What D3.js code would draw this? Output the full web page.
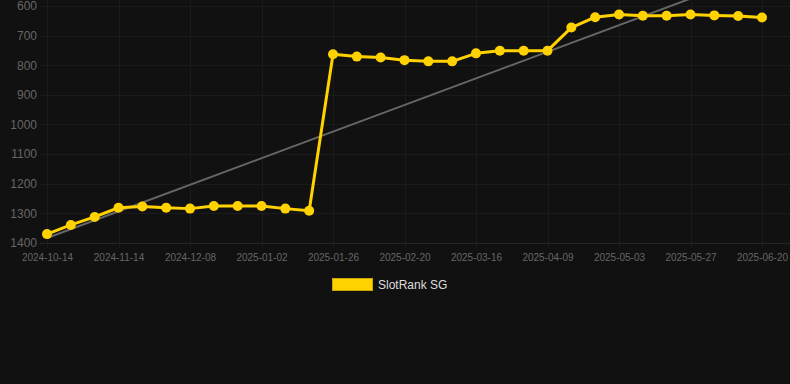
<!DOCTYPE html>
<html>
<head>
<meta charset="utf-8">
<script src="https://cdn.jsdelivr.net/npm/d3@7"></script>
<style>
  html, body { margin: 0; padding: 0; background: #111111; }
  svg { display: block; font-family: "Liberation Sans", Arial, sans-serif; }
</style>
</head>
<body>
<div id="chart"></div>
<script>
var dates = ['2024-10-14', '2024-10-24', '2024-11-04', '2024-11-14', '2024-11-22', '2024-11-30',
             '2024-12-08', '2024-12-16', '2024-12-24', '2025-01-02', '2025-01-10', '2025-01-18',
             '2025-01-26', '2025-02-03', '2025-02-11', '2025-02-20', '2025-02-28', '2025-03-08',
             '2025-03-16', '2025-03-24', '2025-04-01', '2025-04-09', '2025-04-17', '2025-04-25',
             '2025-05-03', '2025-05-11', '2025-05-19', '2025-05-27', '2025-06-04', '2025-06-12',
             '2025-06-20'];

var ranks = [1370, 1339, 1312, 1281, 1277, 1281, 1284, 1275, 1275, 1275, 1284, 1291,
             763, 771, 774, 783, 787, 787, 760, 751, 751, 751, 673, 638,
             629, 633, 633, 629, 632, 634, 639];

var yTicks = [600, 700, 800, 900, 1000, 1100, 1200, 1300, 1400];
var seriesName = 'SlotRank SG';

var W = 790, H = 384;
var plotTop = 0, plotBottom = 243, plotLeft = 40, plotRight = 790;

var svg = d3.select('#chart')
    .append('svg')
    .attr('width', W)
    .attr('height', H);

svg.append('rect')
    .attr('width', W)
    .attr('height', H)
    .attr('fill', '#111111');

var x = d3.scalePoint()
    .domain(dates)
    .range([47, 762]);

var y = d3.scaleLinear()
    .domain([580, 1400])
    .range([plotTop, plotBottom]);

// grid
var tickDates = dates.filter(function(d, i) { return i % 3 === 0; });

svg.append('g')
    .selectAll('line')
    .data(yTicks)
    .enter().append('line')
    .attr('x1', plotLeft)
    .attr('x2', plotRight)
    .attr('y1', function(d) { return Math.round(y(d)) + 0.5; })
    .attr('y2', function(d) { return Math.round(y(d)) + 0.5; })
    .attr('stroke', function(d) { return d === 1400 ? '#252525' : '#1b1b1b'; })
    .attr('stroke-width', 1);

svg.append('g')
    .selectAll('line')
    .data(tickDates)
    .enter().append('line')
    .attr('x1', function(d) { return Math.round(x(d)) + 0.5; })
    .attr('x2', function(d) { return Math.round(x(d)) + 0.5; })
    .attr('y1', plotTop)
    .attr('y2', plotBottom + 5)
    .attr('stroke', '#1b1b1b')
    .attr('stroke-width', 1);

// axes labels
var yAxis = d3.axisLeft(y).tickValues(yTicks).tickFormat(d3.format('d')).tickSize(0).tickPadding(0);
var gy = svg.append('g')
    .attr('transform', 'translate(37,0)')
    .call(yAxis);
gy.select('.domain').remove();
gy.selectAll('text')
    .attr('fill', '#666666')
    .attr('font-size', 12)
    .attr('font-family', '"Liberation Sans", Arial, sans-serif');

var xAxis = d3.axisBottom(x).tickValues(tickDates).tickSize(0).tickPadding(0);
var gx = svg.append('g')
    .attr('transform', 'translate(0,254)')
    .call(xAxis);
gx.select('.domain').remove();
gx.selectAll('text')
    .attr('fill', '#666666')
    .attr('font-size', 10)
    .attr('font-family', '"Liberation Sans", Arial, sans-serif');

// trend line (least squares over the series)
var n = ranks.length;
var mx = d3.mean(ranks, function(d, i) { return i; });
var my = d3.mean(ranks);
var sxy = d3.sum(ranks, function(d, i) { return (i - mx) * (d - my); });
var sxx = d3.sum(ranks, function(d, i) { return (i - mx) * (i - mx); });
var slope = sxy / sxx;
var icpt = my - slope * mx;

svg.append('clipPath')
    .attr('id', 'plotclip')
    .append('rect')
    .attr('x', 0)
    .attr('y', plotTop)
    .attr('width', W)
    .attr('height', plotBottom - plotTop);

svg.append('line')
    .attr('clip-path', 'url(#plotclip)')
    .attr('x1', x(dates[0]))
    .attr('y1', y(icpt))
    .attr('x2', x(dates[n - 1]))
    .attr('y2', y(icpt + slope * (n - 1)))
    .attr('stroke', '#666666')
    .attr('stroke-width', 2);

// series
var line = d3.line()
    .x(function(d, i) { return x(dates[i]); })
    .y(function(d) { return y(d); });

svg.append('path')
    .datum(ranks)
    .attr('d', line)
    .attr('fill', 'none')
    .attr('stroke', '#ffd200')
    .attr('stroke-width', 3)
    .attr('stroke-linejoin', 'round');

svg.append('g')
    .selectAll('circle')
    .data(ranks)
    .enter().append('circle')
    .attr('cx', function(d, i) { return x(dates[i]); })
    .attr('cy', function(d) { return y(d); })
    .attr('r', 5)
    .attr('fill', '#ffd200');

// legend
svg.append('rect')
    .attr('x', 332.5)
    .attr('y', 278.5)
    .attr('width', 40)
    .attr('height', 12)
    .attr('fill', '#ffd200')
    .attr('stroke', '#c9a500')
    .attr('stroke-width', 1);

svg.append('text')
    .attr('x', 378)
    .attr('y', 289)
    .attr('fill', '#dddddd')
    .attr('font-size', 12)
    .text(seriesName);
</script>
</body>
</html>
